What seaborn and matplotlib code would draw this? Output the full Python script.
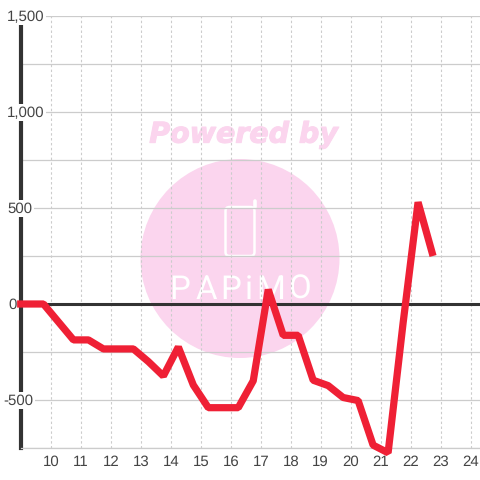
import matplotlib
matplotlib.use('Agg')
import matplotlib.pyplot as plt
import matplotlib.patheffects as pe
from matplotlib.patches import Circle, FancyBboxPatch
import pandas as pd
import seaborn as sns

hours = [8.87, 9.25, 9.75, 10.75, 11.25, 11.75, 12.25, 12.75, 13.25, 13.75, 14.25, 14.75,
         15.25, 15.75, 16.25, 16.75, 17.25, 17.75, 18.25, 18.75, 19.25, 19.75, 20.25,
         20.75, 21.25, 21.75, 22.25, 22.75]
values = [0, 0, 0, -187, -187, -234, -234, -234, -300, -375, -224, -422,
          -540, -540, -540, -400, 75, -163, -163, -397, -425, -487, -503,
          -735, -775, -100, 530, 250]

x_ticks = list(range(10, 25))
y_major = [1500, 1000, 500, 0, -500]
y_labels = ['1,500', '1,000', '500', '0', '-500']
y_label_left = [7, 7, 7, 8, 3]
y_minor = [1250, 750, 250, -250, -750]

PINK = '#fbd5ee'
GREY = '#cccccc'
DARK = '#333333'
RED = '#ef2035'

sns.set_theme(style='white')
plt.rcParams['font.family'] = ['Liberation Sans', 'DejaVu Sans']
plt.rcParams['text.hinting'] = 'none'
plt.rcParams['text.hinting_factor'] = 1

fig = plt.figure(figsize=(4.8, 4.8), dpi=100, facecolor='white')

# marca de agua, en pixeles
bg = fig.add_axes([0, 0, 1, 1], zorder=-1)
bg.set_xlim(0, 480)
bg.set_ylim(480, 0)
bg.axis('off')
bg.add_patch(Circle((240, 258.5), 99.5, fc=PINK, ec='none'))
bg.text(242, 135, 'Powered by', color=PINK, fontsize=20.5, fontweight='bold',
        fontstyle='italic', ha='center', va='center', family=['DejaVu Sans'],
        path_effects=[pe.withStroke(linewidth=0.8, foreground=PINK)])
bg.add_patch(FancyBboxPatch((225.5, 207), 29, 49, boxstyle='round,pad=0,rounding_size=4',
                            fc='none', ec='white', lw=1.8))
bg.plot([254.5, 254.5], [207, 201], color='white', lw=2.6, solid_capstyle='round')
for letter, x in zip('PAPiMO', [180, 206, 231, 249, 271, 299]):
    bg.text(x, 290, letter, color='white', fontsize=24, ha='center', va='center',
            family=['Roboto'])

ax = fig.add_axes([20.5 / 480, 32 / 480, 459.5 / 480, 432 / 480])
ax.patch.set_alpha(0)

df = pd.DataFrame({'hour': hours, 'value': values})
sns.lineplot(data=df, x='hour', y='value', ax=ax, color=RED, lw=5.2, zorder=5,
             clip_on=False, solid_joinstyle='bevel', solid_capstyle='butt', errorbar=None)

ax.set_xlim(8.983, 24.317)
ax.set_ylim(-750, 1500)
ax.set_xlabel('')
ax.set_ylabel('')
ax.set_xticks(x_ticks)
ax.set_yticks(y_major)
ax.set_yticks(y_minor, minor=True)
ax.set_yticklabels([])
ax.tick_params(axis='both', which='both', length=0)
ax.tick_params(axis='x', pad=5, labelsize=11, labelcolor='#444444')

ax.set_axisbelow(True)
ax.grid(True, axis='y', which='both', color=GREY, lw=0.9)
ax.grid(True, axis='x', color=GREY, lw=0.8, ls=(0, (2.2, 2.2)))

ax.axhline(0, color=DARK, lw=2.2, zorder=3)

for side in ['top', 'right']:
    ax.spines[side].set_visible(False)
ax.spines['bottom'].set_color(GREY)
ax.spines['bottom'].set_linewidth(0.9)
ax.spines['left'].set_color(DARK)
ax.spines['left'].set_linewidth(3)

# etiquetas con fondo blanco que cortan el eje y las lineas
for val, lab, left in zip(y_major, y_labels, y_label_left):
    ax.annotate(lab, xy=((left - 20.5) / 459.5, val), xycoords=ax.get_yaxis_transform(),
                xytext=(0, -0.7), textcoords='offset points',
                ha='left', va='center', fontsize=11, color='#444444', annotation_clip=False,
                zorder=4, bbox=dict(boxstyle='square,pad=0.1', fc='white', ec='none'))

plt.savefig('out.png', dpi=100)
plt.close()
